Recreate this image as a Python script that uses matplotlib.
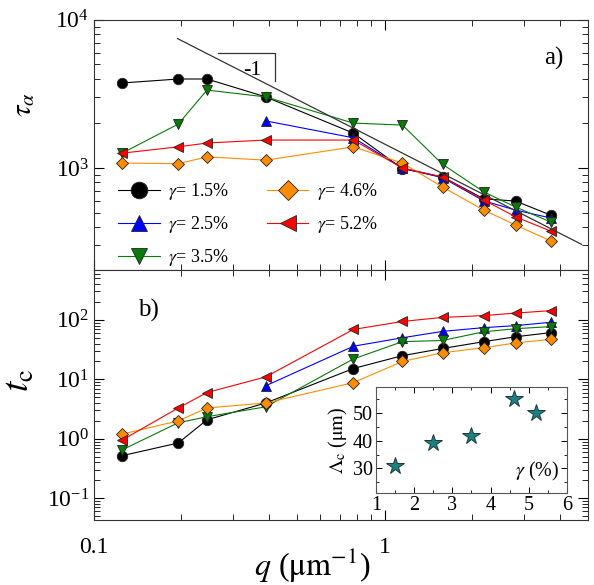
import numpy as np
import matplotlib
matplotlib.use('Agg')
import matplotlib.pyplot as plt
from matplotlib.ticker import LogLocator, NullFormatter, FixedLocator, FixedFormatter, MultipleLocator

plt.rcParams['font.family'] = ['Liberation Serif', 'DejaVu Serif']
plt.rcParams['mathtext.fontset'] = 'stix'

# data
q = [0.125, 0.195, 0.245, 0.39, 0.78, 1.15, 1.58, 2.19, 2.82, 3.72]
labels = ['1.5', '2.5', '3.5', '4.6', '5.2']
colors = ['#000000', '#0000ff', '#077a07', '#ff8c00', '#ff0000']
markers = ['o', '^', 'v', 'D', '<']

tau_15 = [3750, 3990, 3990, 3020, 1720, 990, 870, 620, 598, 481]
tau_25 = [None, None, None, 2080, 1600, 1000, 860, 600, 520, 460]
tau_35 = [1260, 1980, 3360, 3020, 2010, 1950, 1060, 690, 545, 432]
tau_46 = [1080, 1070, 1190, 1130, 1390, 1080, 745, 520, 412, 322]
tau_52 = [1260, 1390, 1475, 1545, 1545, 1000, 870, 608, 468, 375]
taus = [tau_15, tau_25, tau_35, tau_46, tau_52]

tc_15 = [0.52, 0.85, 2.09, 4.0, 15.2, 25, 33, 43, 52, 61]
tc_25 = [None, None, None, 7.8, 36, 50, 64, 74, 80, 91]
tc_35 = [0.65, 1.86, 2.35, 3.45, 22, 43, 45, 63, 71, 77]
tc_46 = [1.2, 2.0, 3.3, 4.0, 8.8, 20, 28, 34, 41, 47]
tc_52 = [0.95, 3.3, 6.0, 11, 69, 94, 110, 118, 130, 143]
tcs = [tc_15, tc_25, tc_35, tc_46, tc_52]

# q^-1 guide line and slope triangle
guide_q = [0.194, 4.75]
guide_pref = 1450.0
tri_q = [0.267, 0.419, 0.419]
tri_tau = [5990, 5990, 3870]

gamma = [1.5, 2.5, 3.5, 4.6, 5.2]
lam_c = [30.7, 39.3, 41.8, 55.2, 50.0]

fig = plt.figure(figsize=(5.94, 5.85), dpi=100)
ax1 = fig.add_axes([0.158, 0.5385, 0.832, 0.4275])
ax2 = fig.add_axes([0.158, 0.111, 0.832, 0.4275])

def style(ax):
    ax.set_xscale('log'); ax.set_yscale('log')
    ax.set_xlim(0.1, 5.0)
    ax.tick_params(which='both', direction='in', top=True, right=True, labelsize=17)
    ax.tick_params(which='major', length=7, width=0.8)
    ax.tick_params(which='minor', length=4, width=0.6)
    for s in ax.spines.values():
        s.set_linewidth(0.8)
        s.set_color('#333333')

for ax, ys in [(ax1, taus), (ax2, tcs)]:
    style(ax)
    for y, c, m, lab in zip(ys, colors, markers, labels):
        qq = [a for a, b in zip(q, y) if b is not None]
        yy = [b for b in y if b is not None]
        ax.plot(qq, yy, color=c, lw=0.8, marker=m, ms=7.5 if m != 'D' else 6.5,
                mfc=c, mec='#222222', mew=0.6, label=r'$\gamma$= ' + lab + '%')

ax1.set_ylim(205, 1e4)
ax1.yaxis.set_major_locator(LogLocator(base=10, numticks=10))
ax1.yaxis.set_minor_locator(LogLocator(base=10, subs=np.arange(2, 10), numticks=10))
ax1.yaxis.set_minor_formatter(NullFormatter())
ax1.xaxis.set_major_formatter(NullFormatter())
ax1.xaxis.set_minor_formatter(NullFormatter())

gq = np.array(guide_q)
ax1.plot(gq, guide_pref / gq, color='#333333', lw=0.9, zorder=5)
ax1.plot(tri_q, tri_tau, color='#333333', lw=0.9)
ax1.text(0.35, 4550, '-1', fontsize=16, ha='center', va='center')
ax1.text(0.93, 0.845, 'a)', transform=ax1.transAxes, fontsize=18, ha='center', va='center')
ax1.set_ylabel(r'$\tau_\alpha$', fontsize=21)
ax1.yaxis.set_label_coords(-0.115, 0.66)

leg = ax1.legend(ncol=2, loc='upper left', bbox_to_anchor=(0.035, 0.385), frameon=False,
                 fontsize=13, markerscale=1.6, handlelength=2.3, handletextpad=0.45,
                 columnspacing=2.1, labelspacing=0.68, borderaxespad=0)

ax2.set_ylim(0.043, 690)
ax2.yaxis.set_major_locator(LogLocator(base=10, numticks=10))
ax2.yaxis.set_minor_locator(LogLocator(base=10, subs=np.arange(2, 10), numticks=10))
ax2.yaxis.set_minor_formatter(NullFormatter())
ax2.xaxis.set_major_locator(FixedLocator([0.1, 1]))
ax2.xaxis.set_major_formatter(FixedFormatter(['0.1', '1']))
ax2.xaxis.set_minor_formatter(NullFormatter())
ax2.tick_params(axis='x', pad=12)
ax2.text(0.11, 0.84, 'b)', transform=ax2.transAxes, fontsize=18, ha='center', va='center')
ax2.set_ylabel(r'$t_{\rm c}$', fontsize=27)
ax2.yaxis.set_label_coords(-0.115, 0.56)
fig.text(0.525, 0.033, r'$q$ ($\rm \mu m^{-1}$)', fontsize=23, ha='center', va='center')

ins = fig.add_axes([0.633, 0.157, 0.3215, 0.181])
ins.plot(gamma, lam_c, ls='none', marker='*', ms=13, mfc='#1f7f80', mec='#1a3a3a', mew=0.7)
ins.set_xlim(1, 6)
ins.set_ylim(21, 59.4)
ins.xaxis.set_major_locator(MultipleLocator(1))
ins.xaxis.set_minor_locator(MultipleLocator(0.5))
ins.yaxis.set_major_locator(FixedLocator([30, 40, 50]))
ins.yaxis.set_minor_locator(MultipleLocator(5))
ins.tick_params(which='both', direction='in', top=True, right=True, labelsize=14.5, pad=2)
ins.tick_params(which='major', length=4, width=0.7)
ins.tick_params(which='minor', length=2.5, width=0.6)
for s in ins.spines.values():
    s.set_linewidth(0.8)
    s.set_color('#555555')
ins.set_ylabel(r'$\Lambda_{\rm c}$ ($\rm \mu m$)', fontsize=14.5, labelpad=2)
ins.text(0.96, 0.1, r'$\gamma$ (%)', transform=ins.transAxes, fontsize=14.5, ha='right', va='bottom')

fig.savefig('out.png', dpi=100)
